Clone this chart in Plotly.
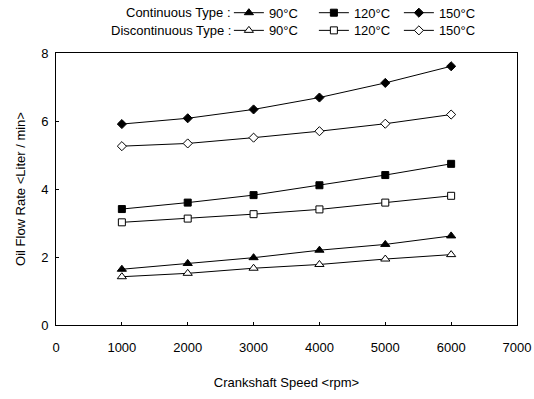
import plotly.graph_objects as go

speed = [1000, 2000, 3000, 4000, 5000, 6000]
cont_90 = [1.64, 1.81, 1.98, 2.20, 2.37, 2.62]
cont_120 = [3.41, 3.60, 3.82, 4.11, 4.41, 4.74]
cont_150 = [5.91, 6.08, 6.34, 6.69, 7.12, 7.61]
disc_90 = [1.42, 1.52, 1.67, 1.78, 1.94, 2.07]
disc_120 = [3.02, 3.13, 3.26, 3.40, 3.60, 3.80]
disc_150 = [5.26, 5.34, 5.51, 5.70, 5.92, 6.19]
labels = ["90°C", "120°C", "150°C"]

FONT = "Liberation Sans, Arial, sans-serif"
fig = go.Figure()

series = [
    (cont_90, "triangle-up", "black", 8, "legend"),
    (cont_120, "square", "black", 7, "legend"),
    (cont_150, "diamond", "black", 7, "legend"),
    (disc_90, "triangle-up", "white", 8, "legend2"),
    (disc_120, "square", "white", 7, "legend2"),
    (disc_150, "diamond", "white", 7, "legend2"),
]
for i, (vals, sym, fill, size, leg) in enumerate(series):
    fig.add_trace(go.Scatter(
        x=speed, y=vals, mode="lines+markers", name=labels[i % 3],
        line=dict(color="black", width=1),
        marker=dict(symbol=sym, size=size, color=fill,
                    line=dict(color="black", width=1)),
        legend=leg,
    ))

legend_common = dict(orientation="h", xanchor="left", yanchor="middle", x=0.375,
                     font=dict(family=FONT, size=13, color="black"),
                     bgcolor="rgba(0,0,0,0)", entrywidth=40, itemwidth=30,
                     tracegroupgap=0)
fig.update_layout(
    legend=dict(y=1.148, **legend_common),
    legend2=dict(y=1.083, **legend_common),
)

fig.add_annotation(text="Continuous Type :", xref="paper", yref="paper", x=0.385, y=1.148,
                   xanchor="right", yanchor="middle", showarrow=False,
                   font=dict(family=FONT, size=13, color="black"))
fig.add_annotation(text="Discontinuous Type :", xref="paper", yref="paper", x=0.385, y=1.083,
                   xanchor="right", yanchor="middle", showarrow=False,
                   font=dict(family=FONT, size=13, color="black"))

fig.update_layout(
    width=534, height=399,
    margin=dict(l=56, r=17, t=53, b=74, autoexpand=False),
    paper_bgcolor="white", plot_bgcolor="white",
    font=dict(family=FONT, size=13, color="black"),
    xaxis=dict(range=[0, 7000], dtick=1000, showgrid=False, zeroline=False,
               showline=True, linecolor="black", linewidth=1, mirror=True,
               ticks="inside", ticklen=3, tickcolor="black", ticklabelstandoff=10,
               title=dict(text="Crankshaft Speed <rpm>", font=dict(size=13), standoff=24)),
    yaxis=dict(range=[0, 8], dtick=2, showgrid=False, zeroline=False,
               showline=True, linecolor="black", linewidth=1, mirror=True,
               ticks="inside", ticklen=3, tickcolor="black", ticklabelstandoff=4,
               title=dict(text="Oil Flow Rate <Liter / min>", font=dict(size=13), standoff=12)),
)

fig.write_html("out.html")
